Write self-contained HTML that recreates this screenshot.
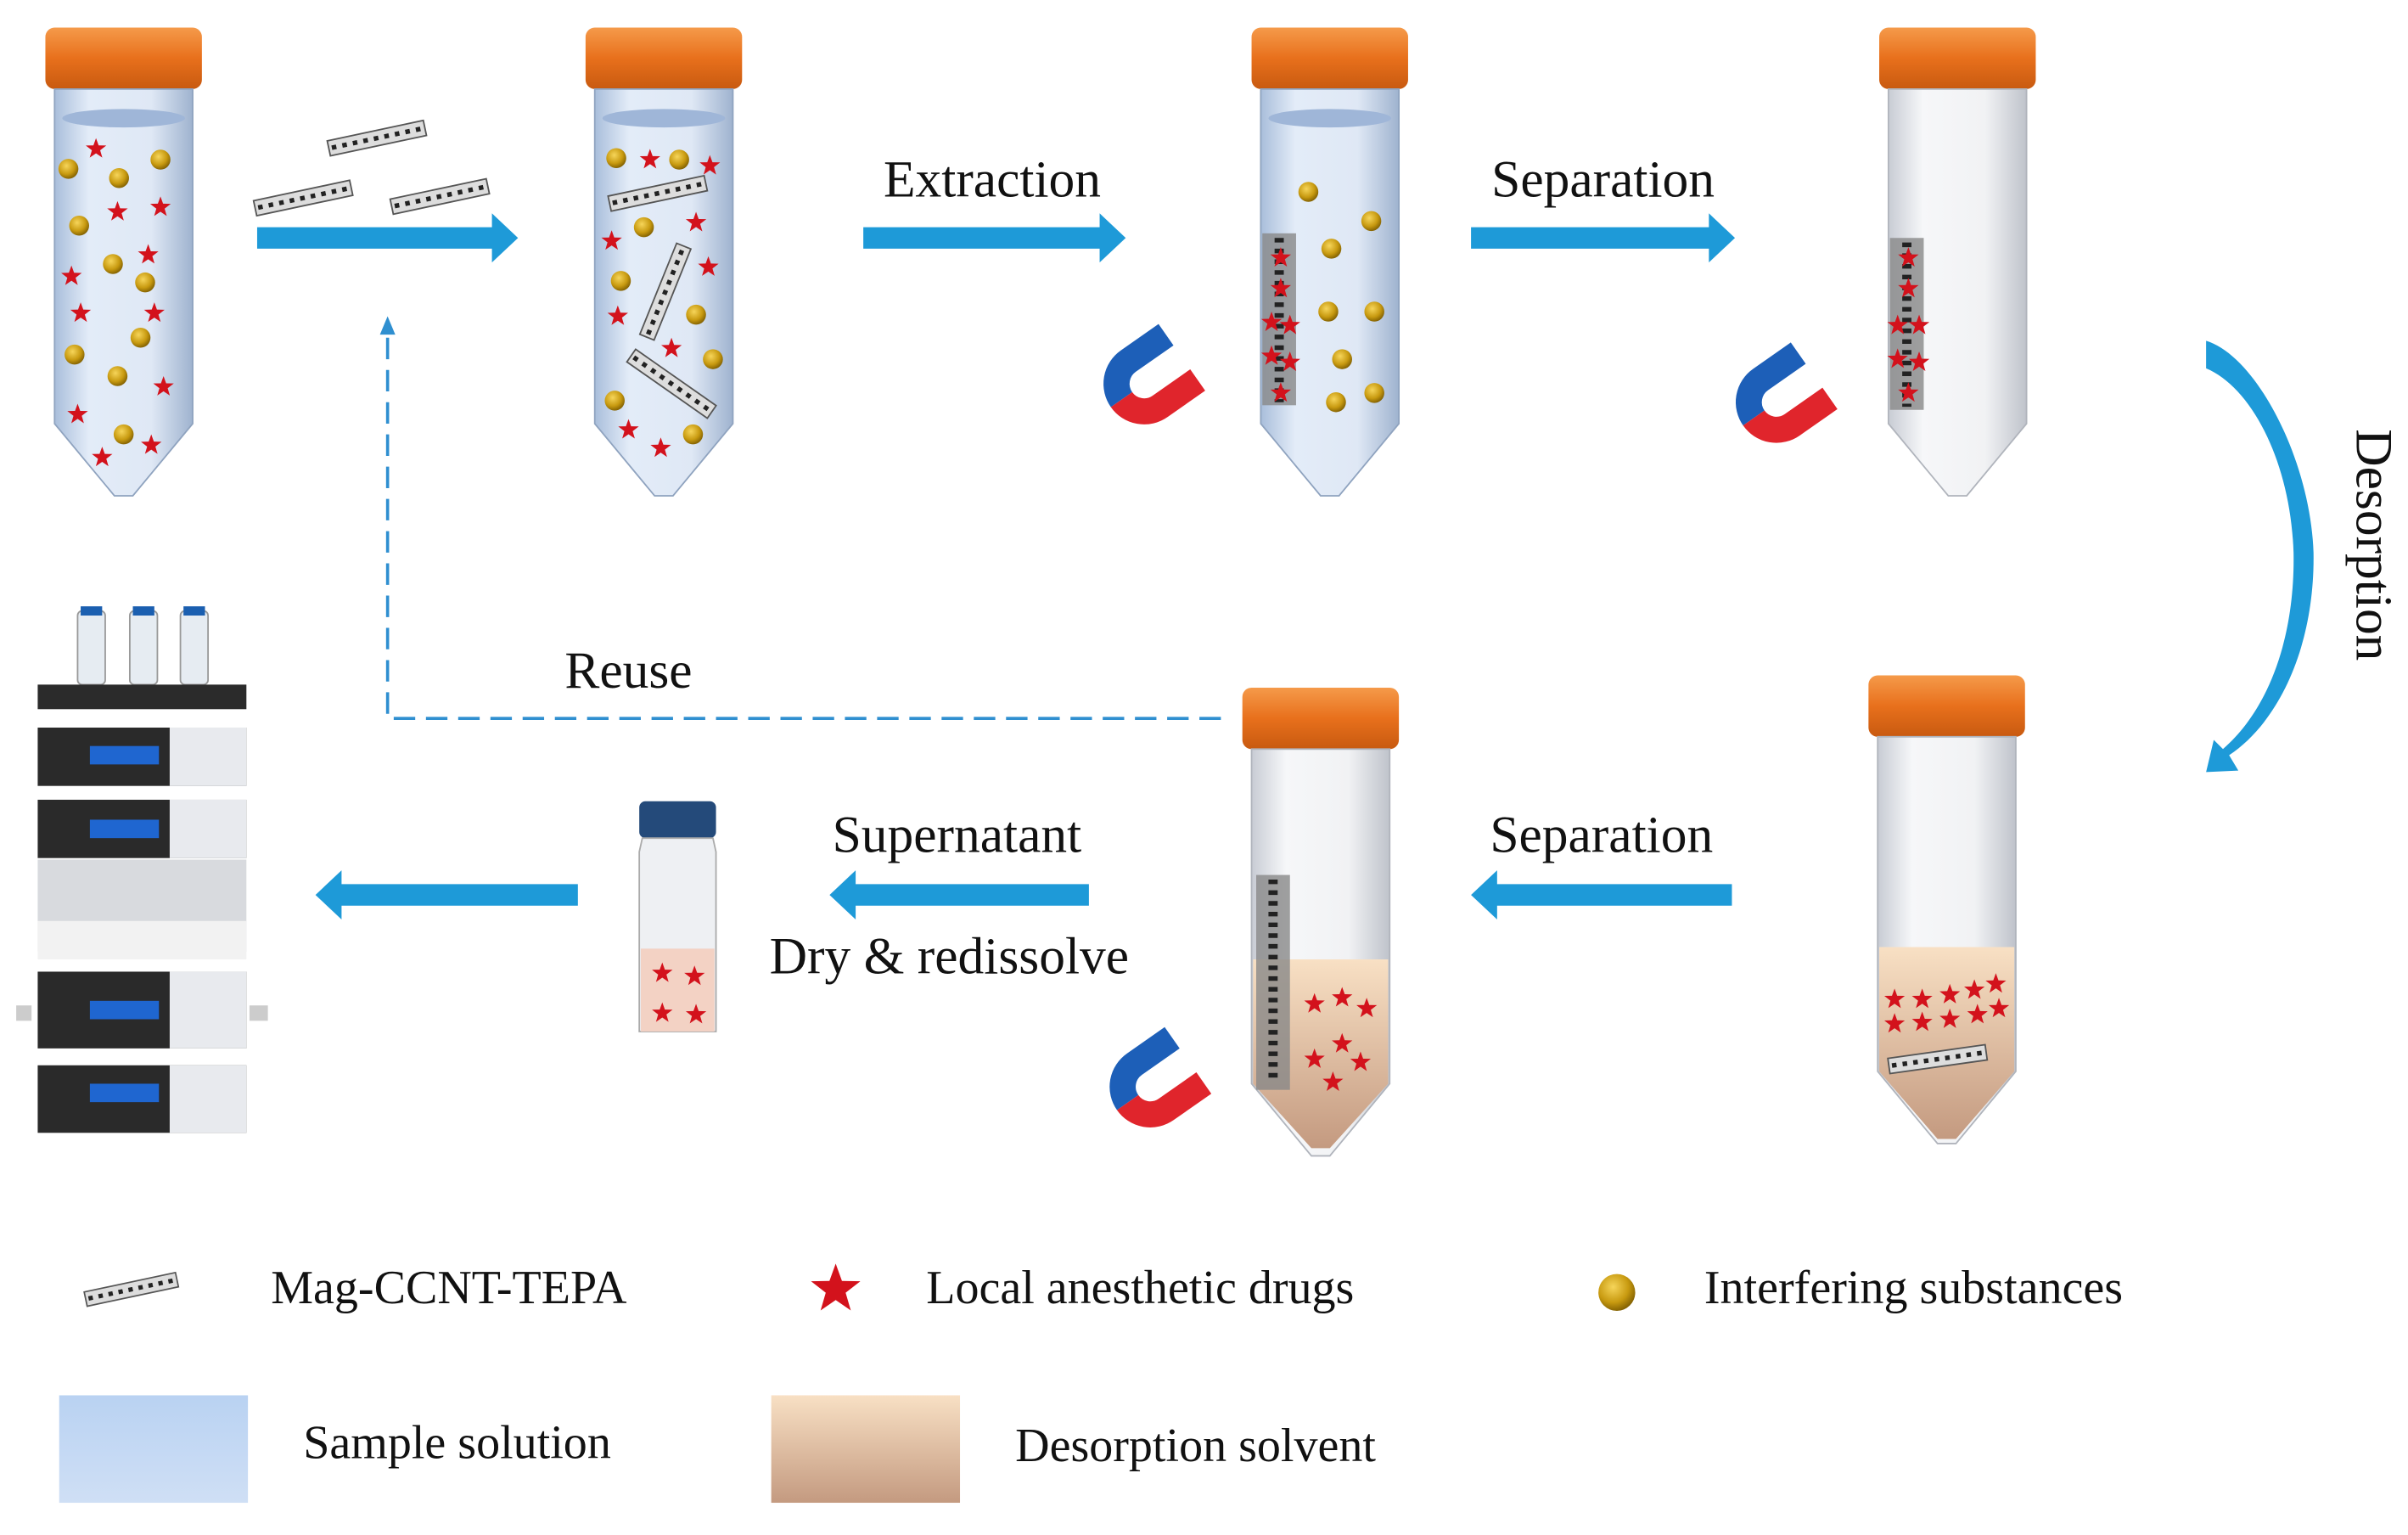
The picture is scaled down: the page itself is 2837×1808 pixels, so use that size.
<!DOCTYPE html>
<html><head><meta charset="utf-8"><style>
html,body{margin:0;padding:0;background:#fff;}
svg{display:block;}
text{font-family:"Liberation Serif",serif;fill:#111;}
</style></head><body>
<svg width="2837" height="1808" viewBox="0 0 1568 1000" xmlns="http://www.w3.org/2000/svg">
<defs>
<linearGradient id="tb" x1="0" x2="1">
<stop offset="0" stop-color="#a9bedb"/><stop offset="0.25" stop-color="#e3ecf8"/><stop offset="0.7" stop-color="#dfe8f5"/><stop offset="1" stop-color="#9fb3cf"/></linearGradient>
<linearGradient id="tbw" x1="0" x2="1">
<stop offset="0" stop-color="#c8ccd4"/><stop offset="0.25" stop-color="#f6f7f9"/><stop offset="0.7" stop-color="#f1f2f4"/><stop offset="1" stop-color="#bfc3cb"/></linearGradient>
<linearGradient id="cap" x1="0" x2="0" y1="0" y2="1">
<stop offset="0" stop-color="#f59a4a"/><stop offset="0.5" stop-color="#e8701c"/><stop offset="1" stop-color="#c85a10"/></linearGradient>
<linearGradient id="des" x1="0" x2="0" y1="0" y2="1">
<stop offset="0" stop-color="#f8e0c4"/><stop offset="1" stop-color="#c49a80"/></linearGradient>
<linearGradient id="samp" x1="0" x2="0" y1="0" y2="1">
<stop offset="0" stop-color="#b9d2f2"/><stop offset="1" stop-color="#cfdff5"/></linearGradient>
<radialGradient id="ballg" cx="0.4" cy="0.35" r="0.7"><stop offset="0" stop-color="#f6d55a"/><stop offset="0.6" stop-color="#c89a10"/><stop offset="1" stop-color="#7a5a00"/></radialGradient>
<g id="tube">
<rect x="-51" y="0" width="102" height="40" rx="6" fill="url(#cap)"/>
<path d="M-45,40 L45,40 L45,258 L6,305 L-6,305 L-45,258 Z" fill="url(#tb)" stroke="#8fa3bf" stroke-width="1"/>
</g>
<g id="tubew">
<rect x="-51" y="0" width="102" height="40" rx="6" fill="url(#cap)"/>
<path d="M-45,40 L45,40 L45,258 L6,305 L-6,305 L-45,258 Z" fill="url(#tbw)" stroke="#b0b4bc" stroke-width="1"/>
</g>
<polygon id="star" points="0,-7 1.7,-2.3 6.7,-2.2 2.7,0.9 4.1,5.7 0,2.9 -4.1,5.7 -2.7,0.9 -6.7,-2.2 -1.7,-2.3" fill="#d3121c"/>
<circle id="ball" r="6.5" fill="url(#ballg)"/>
<g id="cnt"><rect x="-32" y="-5" width="64" height="10" fill="#ddd" stroke="#555" stroke-width="1"/><line x1="-30" y1="0" x2="30" y2="0" stroke="#222" stroke-width="3" stroke-dasharray="3,4"/></g>
<g id="mag">
<path d="M30,-18 L0,-18 A18,18 0 0 0 -18,0" fill="none" stroke="#1d5fb8" stroke-width="17"/>
<path d="M-18,0 A18,18 0 0 0 0,18 L30,18" fill="none" stroke="#e0252c" stroke-width="17"/>
</g>
</defs>

<!-- top row tubes -->
<use href="#tube" x="80" y="18"/>
<ellipse cx="80" cy="77" rx="40" ry="6" fill="#9fb6d8"/>
<use href="#tube" x="432" y="18"/>
<ellipse cx="432" cy="77" rx="40" ry="6" fill="#9fb6d8"/>
<use href="#tube" x="866" y="18"/>
<ellipse cx="866" cy="77" rx="40" ry="6" fill="#9fb6d8"/>
<use href="#tubew" x="1275" y="18"/>

<!-- tube1 contents -->
<g>
<use href="#star" x="62" y="97"/><use href="#star" x="76" y="138"/><use href="#star" x="104" y="135"/><use href="#star" x="96" y="166"/><use href="#star" x="46" y="180"/><use href="#star" x="52" y="204"/><use href="#star" x="100" y="204"/><use href="#star" x="106" y="252"/><use href="#star" x="50" y="270"/><use href="#star" x="98" y="290"/><use href="#star" x="66" y="298"/>
<use href="#ball" x="44" y="110"/><use href="#ball" x="104" y="104"/><use href="#ball" x="77" y="116"/><use href="#ball" x="51" y="147"/><use href="#ball" x="94" y="184"/><use href="#ball" x="73" y="172"/><use href="#ball" x="91" y="220"/><use href="#ball" x="48" y="231"/><use href="#ball" x="76" y="245"/><use href="#ball" x="80" y="283"/>
</g>
<!-- tube2 contents -->
<g>
<use href="#ball" x="401" y="103"/><use href="#ball" x="442" y="104"/><use href="#star" x="423" y="104"/><use href="#star" x="462" y="108"/>
<use href="#cnt" transform="translate(428,126) rotate(-12)"/>
<use href="#ball" x="419" y="148"/><use href="#star" x="453" y="145"/><use href="#star" x="398" y="157"/>
<use href="#cnt" transform="translate(433,190) rotate(-68)"/>
<use href="#star" x="461" y="174"/><use href="#ball" x="404" y="183"/><use href="#ball" x="453" y="205"/><use href="#star" x="402" y="206"/>
<use href="#star" x="437" y="227"/><use href="#ball" x="464" y="234"/>
<use href="#cnt" transform="translate(437,250) rotate(35)"/>
<use href="#ball" x="400" y="261"/><use href="#star" x="409" y="280"/><use href="#star" x="430" y="292"/><use href="#ball" x="451" y="283"/>
</g>
<!-- free CNTs -->
<use href="#cnt" transform="translate(245,90) rotate(-12)"/>
<use href="#cnt" transform="translate(197,129) rotate(-12)"/>
<use href="#cnt" transform="translate(286,128) rotate(-12)"/>

<!-- tube3 contents -->
<rect x="822" y="152" width="22" height="112" fill="#888" opacity="0.8"/>
<line x1="833" y1="155" x2="833" y2="262" stroke="#222" stroke-width="6" stroke-dasharray="3,4"/>
<use href="#star" x="834" y="168"/><use href="#star" x="834" y="188"/><use href="#star" x="828" y="210"/><use href="#star" x="840" y="212"/><use href="#star" x="828" y="232"/><use href="#star" x="840" y="236"/><use href="#star" x="834" y="256"/>
<use href="#ball" x="852" y="125"/><use href="#ball" x="893" y="144"/><use href="#ball" x="867" y="162"/><use href="#ball" x="865" y="203"/><use href="#ball" x="895" y="203"/><use href="#ball" x="874" y="234"/><use href="#ball" x="870" y="262"/><use href="#ball" x="895" y="256"/>
<use href="#mag" transform="translate(745,250) rotate(-35)"/>

<!-- tube4 contents -->
<rect x="1231" y="155" width="22" height="112" fill="#888" opacity="0.8"/>
<line x1="1242" y1="158" x2="1242" y2="265" stroke="#222" stroke-width="6" stroke-dasharray="3,4"/>
<use href="#star" x="1243" y="168"/><use href="#star" x="1243" y="188"/><use href="#star" x="1236" y="212"/><use href="#star" x="1250" y="212"/><use href="#star" x="1236" y="234"/><use href="#star" x="1250" y="236"/><use href="#star" x="1243" y="256"/>
<use href="#mag" transform="translate(1157,262) rotate(-35)"/>

<!-- arrows -->
<g fill="#1e9ad8">
<polygon points="167,148 320,148 320,139 337,155 320,171 320,162 167,162"/>
<polygon points="562,148 716,148 716,139 733,155 716,171 716,162 562,162"/>
<polygon points="958,148 1113,148 1113,139 1130,155 1113,171 1113,162 958,162"/>
<polygon points="1128,576 975,576 975,567 958,583 975,599 975,590 1128,590"/>
<polygon points="709,576 557,576 557,567 540,583 557,599 557,590 709,590"/>
<polygon points="376,576 222,576 222,567 205,583 222,599 222,590 376,590"/>
</g>
<text x="646" y="128" font-size="34" text-anchor="middle">Extraction</text>
<text x="1044" y="128" font-size="34" text-anchor="middle">Separation</text>
<text x="1043" y="555" font-size="34" text-anchor="middle">Separation</text>
<text x="623" y="555" font-size="34" text-anchor="middle">Supernatant</text>
<text x="618" y="634" font-size="34" text-anchor="middle">Dry &amp; redissolve</text>
<text x="409" y="448" font-size="34" text-anchor="middle">Reuse</text>

<!-- dashed reuse -->
<path d="M795,468 L252,468 L252,215" fill="none" stroke="#2f8fd0" stroke-width="2" stroke-dasharray="14,7"/>
<polygon points="252,206 247,218 257,218" fill="#2f8fd0"/>

<!-- desorption curved arrow -->
<path d="M1437,222 C1470,232 1505,300 1507,360 C1508,420 1485,470 1452,492 L1458,502 L1437,503 L1442,482 L1448,488 C1478,462 1495,415 1494,360 C1492,300 1466,252 1437,240 Z" fill="#1e9ad8"/>
<text transform="translate(1535,355) rotate(90)" font-size="34" text-anchor="middle">Desorption</text>

<!-- bottom tubes -->
<use href="#tubew" x="860" y="448"/>
<path d="M816,625 L904,625 L904,706 L866,748 L854,748 L816,706 Z" fill="url(#des)"/>
<rect x="818" y="570" width="22" height="140" fill="#888" opacity="0.8"/>
<line x1="829" y1="573" x2="829" y2="706" stroke="#222" stroke-width="6" stroke-dasharray="3,4"/>
<use href="#star" x="856" y="654"/><use href="#star" x="874" y="650"/><use href="#star" x="890" y="657"/><use href="#star" x="874" y="680"/><use href="#star" x="856" y="690"/><use href="#star" x="886" y="692"/><use href="#star" x="868" y="705"/>
<use href="#mag" transform="translate(749,708) rotate(-35)"/>

<use href="#tubew" x="1268" y="440"/>
<path d="M1224,617 L1312,617 L1312,698 L1274,742 L1262,742 L1224,698 Z" fill="url(#des)"/>
<use href="#star" x="1234" y="651"/><use href="#star" x="1252" y="651"/><use href="#star" x="1270" y="648"/><use href="#star" x="1286" y="645"/><use href="#star" x="1300" y="641"/><use href="#star" x="1234" y="667"/><use href="#star" x="1252" y="666"/><use href="#star" x="1270" y="664"/><use href="#star" x="1288" y="661"/><use href="#star" x="1302" y="657"/>
<use href="#cnt" transform="translate(1262,690) rotate(-8)"/>

<!-- vial -->
<rect x="416" y="522" width="50" height="24" rx="4" fill="#244a7a"/>
<path d="M418,546 L464,546 L466,555 L466,672 L416,672 L416,555 Z" fill="#eef0f3" stroke="#aaa"/>
<rect x="417" y="618" width="48" height="54" fill="#f3d2c4"/>
<use href="#star" x="431" y="634"/><use href="#star" x="452" y="636"/><use href="#star" x="431" y="660"/><use href="#star" x="453" y="661"/>

<!-- HPLC -->
<g>
<rect x="50" y="398" width="18" height="48" rx="3" fill="#e6ecf2" stroke="#999"/><rect x="52" y="395" width="14" height="6" fill="#1b5fb0"/>
<rect x="84" y="398" width="18" height="48" rx="3" fill="#e6ecf2" stroke="#999"/><rect x="86" y="395" width="14" height="6" fill="#1b5fb0"/>
<rect x="117" y="398" width="18" height="48" rx="3" fill="#e6ecf2" stroke="#999"/><rect x="119" y="395" width="14" height="6" fill="#1b5fb0"/>
<rect x="24" y="446" width="136" height="16" fill="#2b2b2b"/>
<rect x="24" y="474" width="136" height="38" fill="#2a2a2a"/><rect x="110" y="474" width="50" height="38" fill="#e8eaee"/><rect x="58" y="486" width="45" height="12" fill="#1f66d0"/>
<rect x="24" y="521" width="136" height="38" fill="#2a2a2a"/><rect x="110" y="521" width="50" height="38" fill="#e8eaee"/><rect x="58" y="534" width="45" height="12" fill="#1f66d0"/>
<rect x="24" y="560" width="136" height="60" fill="#d8dade"/><rect x="24" y="600" width="136" height="25" fill="#f2f2f2"/>
<rect x="24" y="633" width="136" height="50" fill="#2a2a2a"/><rect x="110" y="633" width="50" height="50" fill="#e8eaee"/><rect x="58" y="652" width="45" height="12" fill="#1f66d0"/>
<rect x="24" y="694" width="136" height="44" fill="#2a2a2a"/><rect x="110" y="694" width="50" height="44" fill="#e8eaee"/><rect x="58" y="706" width="45" height="12" fill="#1f66d0"/>
<rect x="10" y="655" width="10" height="10" fill="#ccc"/><rect x="162" y="655" width="12" height="10" fill="#ccc"/>
</g>

<!-- legend -->
<use href="#cnt" transform="translate(85,840) rotate(-12) scale(0.95)"/>
<text x="176" y="849" font-size="31">Mag-CCNT-TEPA</text>
<use href="#star" transform="translate(544,840) scale(2.4)"/>
<text x="603" y="849" font-size="31">Local anesthetic drugs</text>
<circle cx="1053" cy="842" r="12" fill="url(#ballg)"/>
<text x="1110" y="849" font-size="31">Interfering substances</text>
<rect x="38" y="909" width="123" height="70" fill="url(#samp)"/>
<text x="197" y="950" font-size="31">Sample solution</text>
<rect x="502" y="909" width="123" height="70" fill="url(#des)"/>
<text x="661" y="952" font-size="31">Desorption solvent</text>
</svg>
</body></html>
